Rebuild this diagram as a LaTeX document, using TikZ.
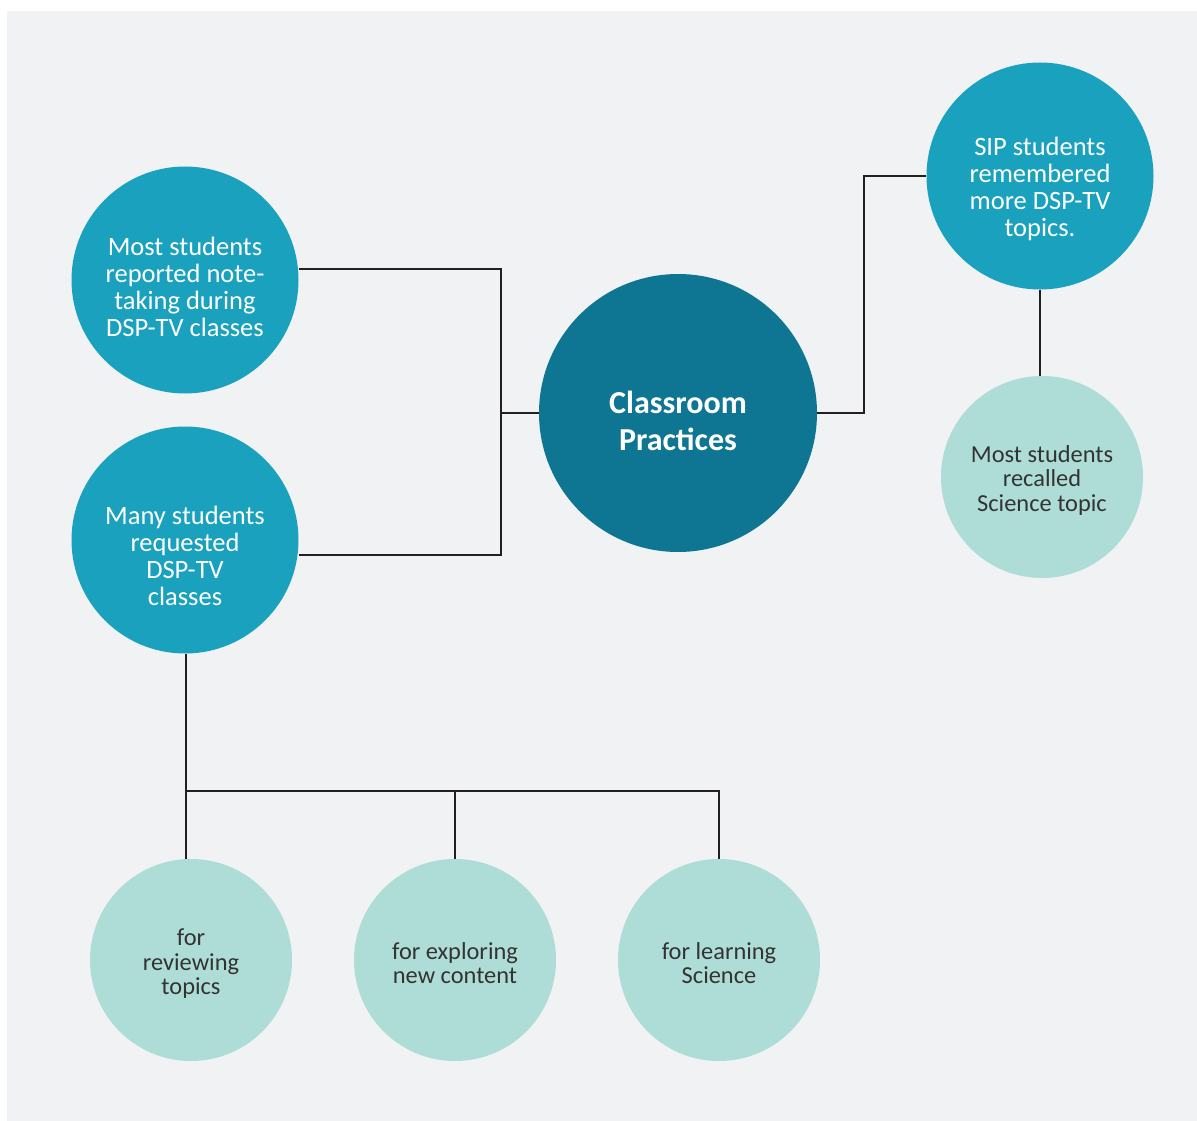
\documentclass[tikz,border=0pt]{standalone}
\usepackage{fontspec}
\setmainfont{Carlito}
\definecolor{pagebg}{HTML}{F1F2F4}
\definecolor{hubfill}{HTML}{0E7692}
\definecolor{midfill}{HTML}{19A1BD}
\definecolor{lightfill}{HTML}{AEDDD7}
\definecolor{linkcol}{HTML}{231F20}
\definecolor{darktext}{HTML}{333333}
\tikzset{
  hub/.style={circle, fill=hubfill, inner sep=0pt, minimum size=278pt},
  midcirc/.style={circle, fill=midfill, inner sep=0pt, minimum size=227pt},
  lightcirc/.style={circle, fill=lightfill, inner sep=0pt, minimum size=202pt},
  hubtext/.style={text=white, align=center, inner sep=0pt,
    font=\fontsize{32}{37}\selectfont\bfseries},
  midtext/.style={text=white, align=center, inner sep=0pt,
    font=\fontsize{26.5}{27}\selectfont},
  lighttext/.style={text=darktext, align=center, inner sep=0pt,
    font=\fontsize{24.4}{24.5}\selectfont},
  link/.style={draw=linkcol, line width=2.6pt}
}
\begin{document}
\begin{tikzpicture}[x=1pt,y=-1pt]
  % canvas
  \fill[white] (0,0) rectangle (1197,1121);
  \fill[pagebg] (7,11) rectangle (1197,1121);
  \useasboundingbox (0,0) rectangle (1197,1121);

  % junction points of the elbow connectors
  \coordinate (jl) at (501,413);
  \coordinate (jr) at (864,413);
  \coordinate (jb) at (186,791);

  % circles
  \node[hub] (hubc) at (678,413) {};
  \node[midcirc] (note) at (185,280) {};
  \node[midcirc] (req) at (185,540) {};
  \node[midcirc] (sip) at (1040,176) {};
  \node[lightcirc] (sci) at (1042,477) {};
  \node[lightcirc] (rev) at (191,960) {};
  \node[lightcirc] (expl) at (455,960) {};
  \node[lightcirc] (learn) at (719,960) {};

  % circle texts
  \node[hubtext] (hubt) at ([yshift=-8pt]hubc.center) {Classroom\\Practices};
  \node[midtext] (notet) at ([yshift=-7pt]note.center) {Most students\\reported note-\\taking during\\DSP-TV classes};
  \node[midtext] (reqt) at ([yshift=-16pt]req.center) {Many students\\requested\\DSP-TV\\classes};
  \node[midtext] (sipt) at ([yshift=-13pt]sip.center) {SIP students\\remembered\\more DSP-TV\\topics.};
  \node[lighttext] (scit) at ([yshift=-3pt]sci.center) {Most students\\recalled\\Science topic};
  \node[lighttext] (revt) at ([yshift=-4pt]rev.center) {for\\reviewing\\topics};
  \node[lighttext] (explt) at ([yshift=-3pt]expl.center) {for exploring\\new content};
  \node[lighttext] (learnt) at ([yshift=-3pt]learn.center) {for learning\\Science};

  % connectors
  \draw[link] (note.east |- 0,269) -| (jl |- 0,555) -- (req.east |- 0,555);
  \draw[link] (jl) -- (hubc.west);
  \draw[link] (hubc.east) -- (jr) |- (sip.west);
  \draw[link] (sip.south) -- (sip.south |- sci.north);
  \draw[link] (req.south -| jb) -- (jb |- rev.north);
  \draw[link] (jb) -| (learn.north);
  \draw[link] (expl.north |- jb) -- (expl.north);
\end{tikzpicture}
\end{document}
